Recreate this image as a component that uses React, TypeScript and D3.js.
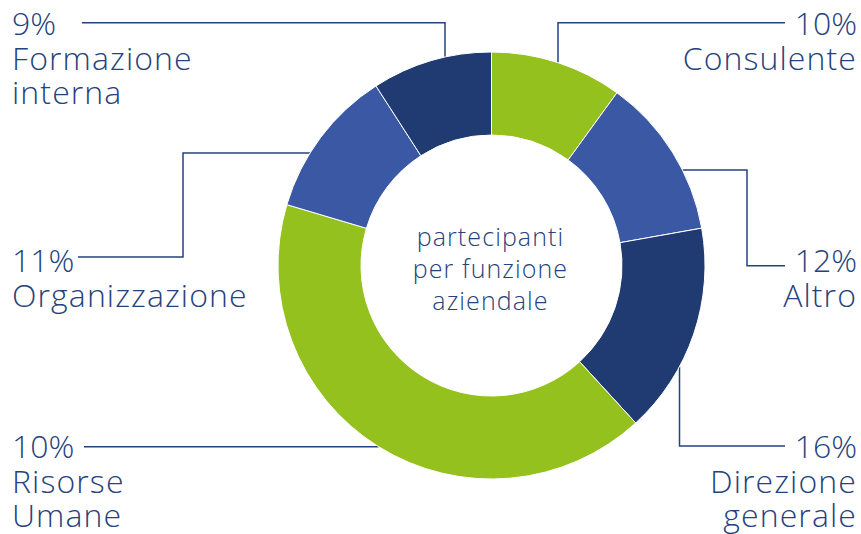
import React from "react";
import * as d3 from "d3";

const categories = ["Consulente", "Altro", "Direzione generale", "Risorse Umane", "Organizzazione", "Formazione interna"];
const values = [10, 12.2, 16, 41.4, 11.3, 9.1];
const percentLabels = ["10%", "12%", "16%", "10%", "11%", "9%"];
const nameLines = [["Consulente"], ["Altro"], ["Direzione", "generale"], ["Risorse", "Umane"], ["Organizzazione"], ["Formazione", "interna"]];
const centerLines = ["partecipanti", "per funzione", "aziendale"];

const GREEN = "#95c11f";
const BLUE = "#3b58a4";
const NAVY = "#203a72";
const TEXT = "#26427c";
const sliceColors = [GREEN, BLUE, NAVY, GREEN, BLUE, NAVY];

const W = 861, H = 534;
const CX = 491.5, CY = 265.5, R_OUT = 213.5, R_IN = 130.5;
const FONT = "'Open Sans', 'Noto Sans', sans-serif";

// Label layout: anchor side, text x, first baseline, leader polyline (last point touches the ring)
type Layout = { anchor: "start" | "end"; x: number; y0: number; pts: [number, number][]; end: "h" | "v" };
const layouts: Layout[] = [
  { anchor: "end", x: 857, y0: 35, pts: [[785, 22.7], [558, 22.7]], end: "v" },
  { anchor: "end", x: 857, y0: 272, pts: [[785, 265.7], [747, 265.7], [747, 170]], end: "h" },
  { anchor: "end", x: 857, y0: 458, pts: [[785, 446], [679.5, 446]], end: "v" },
  { anchor: "start", x: 12, y0: 458, pts: [[84, 446.7]], end: "h" },
  { anchor: "start", x: 12, y0: 272, pts: [[78, 257], [183, 257], [183, 153]], end: "h" },
  { anchor: "start", x: 12, y0: 35, pts: [[82, 22.7], [445, 22.7]], end: "v" },
];

function ringPoint(last: [number, number], mode: "h" | "v"): [number, number] {
  const [x, y] = last;
  if (mode === "v") {
    const dx = x - CX;
    const dy = Math.sqrt(R_OUT * R_OUT - dx * dx);
    return [x, y < CY ? CY - dy : CY + dy];
  }
  const dy = y - CY;
  const dx = Math.sqrt(R_OUT * R_OUT - dy * dy);
  return [x < CX ? CX - dx : CX + dx, y];
}

export default function App() {
  const pie = d3.pie<number>().sort(null).value((d) => d)(values);
  const arc = d3.arc<d3.PieArcDatum<number>>().innerRadius(R_IN).outerRadius(R_OUT);
  const line = d3.line();

  return (
    <svg width={W} height={H} style={{ position: "absolute", left: 0, top: 0, background: "#fff" }} fontFamily={FONT}>
      {layouts.map((l, i) => {
        const last = l.pts[l.pts.length - 1];
        const pts = [...l.pts, ringPoint(last, l.end)];
        return <path key={"l" + i} d={line(pts) || ""} fill="none" stroke={TEXT} strokeWidth={1.5} />;
      })}
      <g transform={`translate(${CX},${CY})`}>
        {pie.map((p, i) => (
          <path key={categories[i]} d={arc(p) || ""} fill={sliceColors[i]} stroke="#fff" strokeWidth={1} />
        ))}
      </g>
      {layouts.map((l, i) => (
        <text key={"t" + i} textAnchor={l.anchor} fill={TEXT} fontSize={32} fontWeight={300}>
          {[percentLabels[i], ...nameLines[i]].map((s, k) => (
            <tspan key={k} x={l.x} y={l.y0 + k * 34.5} letterSpacing={k === 0 ? 0 : 1.1}>{s}</tspan>
          ))}
        </text>
      ))}
      <text textAnchor="middle" fill={TEXT} fontSize={25} fontWeight={300} letterSpacing={1.1}>
        {centerLines.map((s, k) => (
          <tspan key={k} x={CX - 1} y={246 + k * 32}>{s}</tspan>
        ))}
      </text>
    </svg>
  );
}
